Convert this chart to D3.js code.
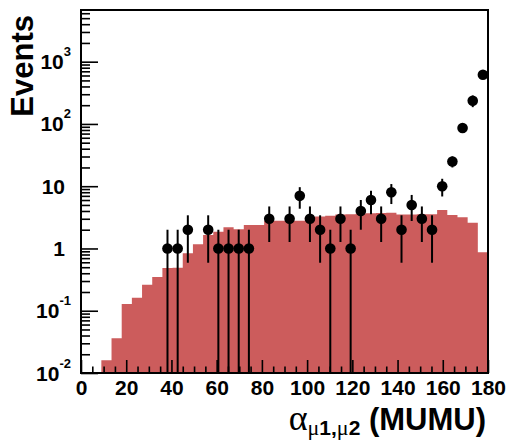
<!DOCTYPE html>
<html>
<head>
<meta charset="utf-8">
<script src="https://cdn.jsdelivr.net/npm/d3@7"></script>
<style>
  html, body { margin: 0; padding: 0; background: #ffffff; }
  svg { display: block; }
  text { font-family: "Liberation Sans", Arial, Helvetica, sans-serif; font-weight: bold; fill: #000; }
  .greek { font-family: "Liberation Serif", "DejaVu Serif", serif; font-weight: normal; }
</style>
</head>
<body>
<svg id="chart" width="506" height="442"></svg>
<script>
// Bin edges of the opening-angle histogram (degrees)
const binEdges = [0, 4.5, 9, 13.5, 18, 22.5, 27, 31.5, 36, 40.5, 45, 49.5, 54, 58.5, 63, 67.5,
  72, 76.5, 81, 85.5, 90, 94.5, 99, 103.5, 108, 112.5, 117, 121.5, 126, 130.5, 135, 139.5,
  144, 148.5, 153, 157.5, 162, 166.5, 171, 175.5, 180];

// Expected events per bin (simulation)
const mcCounts = [0, 0, 0.016, 0.036, 0.128, 0.162, 0.262, 0.348, 0.485, 0.49,
  0.84, 1.17, 1.64, 1.86, 2.19, 2.03, 2.38, 2.38, 2.75, 2.78,
  2.76, 2.8, 3.2, 3.25, 3.36, 3.5, 3.55, 3.65, 3.68, 3.7,
  3.75, 3.5, 3.5, 3.55, 3.55, 4.15, 3.45, 3.16, 2.6, 0.87];

// Observed events: bin centre, count, error
const dataCenters = [38.25, 42.75, 47.25, 56.25, 60.75, 65.25, 69.75, 74.25, 83.25, 92.25,
  96.75, 101.25, 105.75, 110.25, 114.75, 119.25, 123.75, 128.25, 132.75, 137.25,
  141.75, 146.25, 150.75, 155.25, 159.75, 164.25, 168.75, 173.25, 177.75];
const dataCounts = [1, 1, 2, 2, 1, 1, 1, 1, 3, 3,
  7, 3, 2, 1, 3, 1, 4, 6, 3, 8,
  2, 5, 3, 2, 10, 25, 86, 236, 618];
const dataErrors = [1, 1, 1.41, 1.41, 1, 1, 1, 1, 1.73, 1.73,
  2.65, 1.73, 1.41, 1, 1.73, 1, 2, 2.45, 1.73, 2.83,
  1.41, 2.24, 1.73, 1.41, 3.16, 5, 9.3, 50, 25];

// Axis ticks and labels
const xMajorTicks = [0, 20, 40, 60, 80, 100, 120, 140, 160, 180];
const xMinorTicks = [5, 10, 15, 25, 30, 35, 45, 50, 55, 65, 70, 75, 85, 90, 95, 105, 110, 115,
  125, 130, 135, 145, 150, 155, 165, 170, 175];
const yMajorTicks = [0.01, 0.1, 1, 10, 100, 1000];
const yTickBase = ["10", "10", "1", "10", "10", "10"];
const yTickExp = ["-2", "-1", "", "", "2", "3"];
const yMinorTicks = [0.02, 0.03, 0.04, 0.05, 0.06, 0.07, 0.08, 0.09,
  0.2, 0.3, 0.4, 0.5, 0.6, 0.7, 0.8, 0.9,
  2, 3, 4, 5, 6, 7, 8, 9,
  20, 30, 40, 50, 60, 70, 80, 90,
  200, 300, 400, 500, 600, 700, 800, 900,
  2000, 3000, 4000, 5000, 6000];
const yDomain = [0.01, 6760];

const svg = d3.select("#chart");
const frameLeft = 81, frameRight = 488, frameTop = 10, frameBottom = 373;

const x = d3.scaleLinear().domain([0, 180]).range([frameLeft, frameRight]);
const y = d3.scaleLog().domain(yDomain).range([frameBottom, frameTop]);
const yFloor = yDomain[0];

// Simulated histogram as a filled step area
const steps = mcCounts.map((v, i) => ({ x: binEdges[i], v }));
steps.push({ x: binEdges[binEdges.length - 1], v: mcCounts[mcCounts.length - 1] });
const area = d3.area()
  .curve(d3.curveStepAfter)
  .x(d => x(d.x))
  .y0(y(yFloor))
  .y1(d => y(Math.max(d.v, yFloor)));
svg.append("path")
  .datum(steps)
  .attr("d", area)
  .attr("fill", "#cc5c5c")
  .attr("stroke", "none");

// X axis: ticks pointing into the frame
const xAxisG = svg.append("g").attr("transform", `translate(0,${frameBottom})`);
xAxisG.call(d3.axisBottom(x).tickValues(xMajorTicks).tickSize(-13).tickPadding(7).tickFormat(d3.format("d")));
const xMinorG = svg.append("g").attr("transform", `translate(0,${frameBottom})`);
xMinorG.call(d3.axisBottom(x).tickValues(xMinorTicks).tickSize(-6.5).tickFormat(""));
[xAxisG, xMinorG].forEach(g => {
  g.select(".domain").remove();
  g.selectAll(".tick line").attr("stroke", "#000").attr("stroke-width", 1.6);
});
xAxisG.selectAll(".tick text")
  .attr("font-size", 21)
  .attr("font-family", "Liberation Sans, Arial, sans-serif")
  .attr("font-weight", "bold")
  .attr("fill", "#000")
  .attr("dy", "0.71em");

// Y axis: ticks pointing into the frame
const yAxisG = svg.append("g").attr("transform", `translate(${frameLeft},0)`);
yAxisG.call(d3.axisLeft(y).tickValues(yMajorTicks).tickSize(-17).tickFormat(""));
const yMinorG = svg.append("g").attr("transform", `translate(${frameLeft},0)`);
yMinorG.call(d3.axisLeft(y).tickValues(yMinorTicks).tickSize(-9).tickFormat(""));
[yAxisG, yMinorG].forEach(g => {
  g.select(".domain").remove();
  g.selectAll(".tick line").attr("stroke", "#000").attr("stroke-width", 1.6);
});

// Y tick labels with powers of ten
const yLabels = svg.append("g");
yMajorTicks.forEach((v, i) => {
  const t = yLabels.append("text")
    .attr("text-anchor", "end")
    .attr("x", yTickExp[i] ? 71 : 65)
    .attr("y", y(v) + 7.5)
    .attr("font-size", 21);
  t.append("tspan").text(yTickBase[i]);
  if (yTickExp[i]) {
    t.append("tspan").attr("dy", -13).attr("font-size", 13).text(yTickExp[i]);
  }
});

// Frame
svg.append("rect")
  .attr("x", frameLeft).attr("y", frameTop)
  .attr("width", frameRight - frameLeft).attr("height", frameBottom - frameTop)
  .attr("fill", "none").attr("stroke", "#000").attr("stroke-width", 2);

// Observed data: error bars and markers
const pts = dataCenters.map((c, i) => ({ c, n: dataCounts[i], e: dataErrors[i] }));
const dataG = svg.append("g");
dataG.selectAll("line.err")
  .data(pts)
  .join("line")
  .attr("class", "err")
  .attr("x1", d => x(d.c)).attr("x2", d => x(d.c))
  .attr("y1", d => y(Math.max(d.n - d.e, yFloor)))
  .attr("y2", d => y(d.n + d.e))
  .attr("stroke", "#000").attr("stroke-width", 2);
dataG.selectAll("circle")
  .data(pts)
  .join("circle")
  .attr("cx", d => x(d.c))
  .attr("cy", d => y(d.n))
  .attr("r", 5.3)
  .attr("fill", "#000");

// Axis titles
svg.append("text")
  .attr("transform", "translate(33,15) rotate(-90)")
  .attr("text-anchor", "end")
  .attr("font-size", 31)
  .text("Events");

const xt = svg.append("text")
  .attr("text-anchor", "end")
  .attr("x", 486)
  .attr("y", 430)
  .attr("font-size", 31);
xt.append("tspan").attr("class", "greek").attr("font-size", 36).text("α");
const sub = xt.append("tspan").attr("dy", 5).attr("font-size", 21);
sub.append("tspan").attr("class", "greek").attr("font-size", 22).text("μ");
sub.append("tspan").text("1,");
sub.append("tspan").attr("class", "greek").attr("font-size", 22).text("μ");
sub.append("tspan").text("2");
xt.append("tspan").attr("dy", -5).text(" (MUMU)");
</script>
</body>
</html>
